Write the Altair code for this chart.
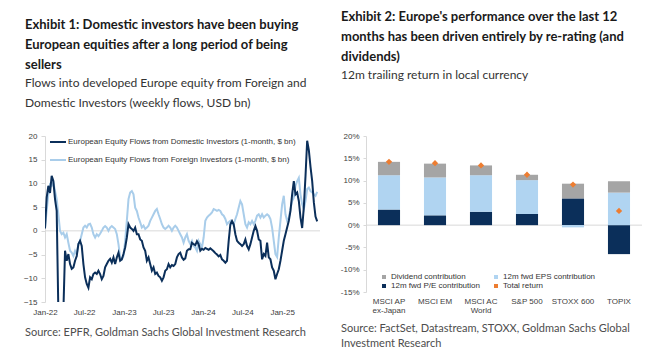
import altair as alt
import pandas as pd

# ---------------- Exhibit 1 data ----------------
flow_start = "2022-01-01"
flow_end = "2025-06-12"
dom_name = "European Equity Flows from Domestic Investors (1-month, $ bn)"
for_name = "European Equity Flows from Foreign Investors (1-month, $ bn)"

domestic = [
    0.5, 7.0, 9.5, 8.0, 11.6, 10.5, 6.7, 4.2, -17, -20, -19, -17, -4.2, -6.3, -4.9, -7.0,
    -8.0, -7.7, -6.3, -5.3, -2.8, -2.1, -3.2, -7.0, -9.8, -11.2, -12.0, -9.8, -10.2, -9.1,
    -8.8, -9.1, -8.4, -9.1, -10.2, -9.5, -7.7, -7.0, -6.3, -5.9, -6.7, -5.6, -7.0, -5.6,
    -4.6, -6.3, -6.0, -4.9, -3.5, -1.4, 1.4, 0.7, 0.4, 0.0, 0.7, -0.7, -0.7, -1.8, -2.1,
    -3.5, -4.2, -6.3, -5.6, -7.0, -8.4, -7.7, -9.1, -8.8, -9.5, -9.8, -10.5, -9.8, -8.4,
    -8.1, -7.0, -7.7, -7.2, -7.4, -7.0, -5.6, -4.9, -4.6, -5.6, -6.1, -5.8, -4.2, -3.9,
    -3.9, -2.5, -2.8, -3.0, -2.2, -2.8, -4.2, -3.8, -4.0, -3.6, -3.8, -4.0, -3.7, -4.0,
    -4.3, -4.7, -5.0, -5.4, -5.1, -6.0, -6.3, -6.7, -6.3, -2.1, 1.4, 2.1,
    1.4, -0.7, -2.1, -2.5, -2.8, -3.2, -2.8, -1.8, -3.2, -3.9, -2.8, -1.4, 0.0, 1.0, 0.0,
    -1.8, -2.1, -6.0, -4.9, -5.3, -2.5, -5.6, -6.0, -7.7, -8.4, -10.2, -9.1, -8.1, -6.3,
    -4.2, -2.1, -0.7, 0.7, 2.1, 4.2, 7.7, 10.5, 7.7, 8.1, 6.3, 2.8, 0.6, 5.0, 11.5, 19.0,
    17.0, 13.5, 10.5, 6.0, 3.0, 2.0,
]
foreign = [
    0.7, 4.2, 7.7, 9.8, 9.5, 10.2, 8.4, 6.7, 3.5, 0.0, -0.7, -0.4, -1.4, -0.7, -2.5, -4.2,
    -4.6, -5.3, -4.2, -4.9, -2.8, -2.1, -0.7, 0.7, 1.1, 0.7, 1.4, 1.5, 0.7, -0.7, -1.4,
    -0.7, -1.1, -0.6, 0.0, 0.7, 1.0, 0.7, 0.0, 0.7, 1.0, 0.7, 0.4, -0.7, -2.8, -5.6, -6.0,
    -5.3, -2.1, 2.1, 6.7, 8.1, 8.4, 7.7, 4.9, 4.2, 2.8, 1.8, 0.7,
    1.1, 0.4, 0.7, 1.1, 2.1, 2.8, 3.5, 4.2, 4.6, 3.5, 2.5, 1.4, 0.7, 0.4, 0.7, 1.1, 0.7,
    0.0, 0.7, 1.1, 0.7, 0.0, -0.7, -1.4, -2.5, -1.4, -0.7, -2.1, -2.8, -2.1, -3.2, -3.5,
    -4.2, -2.1, -2.8, -3.5, -1.4, 2.1, 2.8, 3.2, 3.5, 3.9, 4.6, 4.4, 4.2, 4.4, 4.2, 3.5,
    3.2, 2.5, 1.4, 1.8, 2.1, 1.4,
    1.4, 2.5, 3.5, 4.9, 6.3, 5.6, 3.5, 1.4, 0.7, 1.8, 1.4, 2.1, 1.4, 2.1, 3.2, 3.5, 2.8,
    3.5, 2.8, 3.2, 3.5, 3.2, 2.5, 0.7, -2.1, -4.9, -5.5, -1.4, 2.1, 5.6, 7.4, 3.5, 2.1,
    2.8, 4.6, 6.3, 7.0, 9.5, 10.5, 11.2, 7.7, 5.6, 4.6, 6.3, 8.8, 9.1, 8.4, 8.1, 7.7, 7.4,
    8.2,
]
flow_ticks = ["2022-01-01", "2022-07-01", "2023-01-01", "2023-07-01",
              "2024-01-01", "2024-07-01", "2025-01-01"]
flow_y_ticks = [-15, -10, -5, 0, 5, 10, 15, 20]

# ---------------- Exhibit 2 data ----------------
indices = ["MSCI AP\nex-Japan", "MSCI EM", "MSCI AC\nWorld", "S&P 500", "STOXX 600", "TOPIX"]
pe_contrib = [3.5, 2.2, 3.0, 2.5, 6.0, -6.5]
eps_contrib = [7.7, 8.5, 8.2, 7.6, -0.5, 7.3]
div_contrib = [3.0, 3.1, 2.2, 1.2, 3.3, 2.55]
total_return = [14.2, 13.9, 13.4, 11.3, 9.1, 3.2]
comp_names = ["Dividend contribution", "12m fwd P/E contribution",
              "12m fwd EPS contribution", "Total return"]
ret_y_ticks = [-15, -10, -5, 0, 5, 10, 15, 20]

# ---------------- style ----------------
NAVY = "#0b2f5a"
LIGHT = "#a9cdea"
GREY = "#a5a5a5"
BAR_LIGHT = "#b0d4f1"
ORANGE = "#ed7d31"
TITLE_FONT = "Lato"
AX_FONT = "Liberation Sans"
AX_COL = "#404040"

# ---------------- Exhibit 1 chart ----------------
dates = pd.date_range(flow_start, flow_end, periods=len(domestic))
df_flow = pd.concat([
    pd.DataFrame({"date": dates, "value": domestic, "series": dom_name}),
    pd.DataFrame({"date": dates, "value": foreign, "series": for_name}),
])

W1, H1 = 275, 166
xdates = [alt.DateTime(year=int(d[:4]), month=int(d[5:7]), date=1) for d in flow_ticks]
x1 = alt.X("date:T", title=None,
           scale=alt.Scale(domain=[alt.DateTime(year=2022, month=1, date=1),
                                   alt.DateTime(year=2025, month=6, date=25)]),
           axis=alt.Axis(values=xdates, format="%b-%y", domain=False, ticks=False,
                         grid=False, labelFont=AX_FONT, labelFontSize=8,
                         labelColor=AX_COL, labelPadding=6, labelFlush=False,
                         labelOverlap=False))
y1 = alt.Y("value:Q", title=None,
           scale=alt.Scale(domain=[-15, 20], nice=False, zero=False),
           axis=alt.Axis(values=flow_y_ticks, grid=False, domainColor="#d9d9d9",
                         tickColor="#d9d9d9", tickSize=4, labelFont=AX_FONT,
                         labelFontSize=8, labelColor=AX_COL, labelPadding=4,
                         labelOverlap=False))
c1 = alt.Color("series:N",
               scale=alt.Scale(domain=[dom_name, for_name], range=[NAVY, LIGHT]),
               legend=alt.Legend(orient="none", legendX=4, legendY=-3, title=None,
                                 symbolType="stroke", symbolSize=256,
                                 symbolStrokeWidth=2, labelFont=AX_FONT,
                                 labelFontSize=8, labelColor="#333333", labelLimit=400,
                                 rowPadding=5, labelOffset=1, padding=0))

light_line = alt.Chart(df_flow).transform_filter(
    alt.datum.series == for_name).mark_line(strokeWidth=2, clip=True).encode(x=x1, y=y1, color=c1)
dark_line = alt.Chart(df_flow).transform_filter(
    alt.datum.series == dom_name).mark_line(strokeWidth=2, clip=True).encode(x=x1, y=y1, color=c1)
zero1 = alt.Chart(pd.DataFrame({"value": [0]})).mark_rule(color="#d9d9d9", strokeWidth=1).encode(
    y=y1)
src1 = alt.Chart(pd.DataFrame({"t": ["Source: EPFR, Goldman Sachs Global Investment Research"]})).mark_text(
    align="left", baseline="middle", font=TITLE_FONT, fontSize=11, color="#4d4d4d").encode(
    x=alt.value(-20), y=alt.value(197), text="t:N")

left = alt.layer(zero1, light_line, dark_line, src1).properties(
    width=W1, height=H1,
    title=alt.Title(
        text=["Exhibit 1: Domestic investors have been buying",
              "European equities after a long period of being", "sellers"],
        subtitle=["Flows into developed Europe equity from Foreign and",
                  "Domestic Investors (weekly flows, USD bn)"],
        anchor="start", frame="group", dx=-20, font=TITLE_FONT, fontSize=13,
        fontWeight="bold", color="#1a1a1a", lineHeight=20, subtitleFont=TITLE_FONT,
        subtitleFontSize=12, subtitleColor="#333333", subtitleLineHeight=20,
        subtitlePadding=6, offset=23))

# ---------------- Exhibit 2 chart ----------------
comp_of = {"pe": comp_names[1], "eps": comp_names[2], "div": comp_names[0]}
rows = []
for i, cat in enumerate(indices):
    rows.append({"category": cat, "component": comp_of["pe"], "value": pe_contrib[i], "ord": 0})
    rows.append({"category": cat, "component": comp_of["eps"], "value": eps_contrib[i], "ord": 1})
    rows.append({"category": cat, "component": comp_of["div"], "value": div_contrib[i], "ord": 2})
df_bar = pd.DataFrame(rows)
df_tot = pd.DataFrame({"category": indices, "component": comp_names[3], "value": total_return})

W2, H2 = 276, 156
x2 = alt.X("category:N", sort=indices, title=None,
           scale=alt.Scale(paddingInner=0.52, paddingOuter=0.26),
           axis=alt.Axis(labelExpr="split(datum.label, '\\n')", labelAngle=0,
                         domain=False, ticks=False, labelFont=AX_FONT, labelFontSize=8,
                         labelColor=AX_COL, labelPadding=5, labelLineHeight=9,
                         labelOverlap=False))
y2_axis = alt.Axis(values=ret_y_ticks, grid=False, labelExpr="datum.value + '%'",
                   domainColor="#d9d9d9", tickColor="#d9d9d9", tickSize=3,
                   labelFont=AX_FONT, labelFontSize=8, labelColor=AX_COL,
                   labelPadding=4, labelOverlap=False)
y2 = alt.Y("value:Q", stack="zero", title=None,
           scale=alt.Scale(domain=[-15, 20], nice=False, zero=False), axis=y2_axis)
y2ns = alt.Y("value:Q", stack=None, title=None,
             scale=alt.Scale(domain=[-15, 20], nice=False, zero=False), axis=y2_axis)
c2 = alt.Color("component:N",
               scale=alt.Scale(domain=comp_names, range=[GREY, NAVY, BAR_LIGHT, ORANGE]),
               legend=alt.Legend(orient="none", legendX=14, legendY=137, title=None,
                                 columns=2, symbolType="square", symbolSize=16,
                                 labelFont=AX_FONT, labelFontSize=8, labelLimit=300,
                                 labelColor="#333333", columnPadding=12, rowPadding=1,
                                 labelOffset=3, padding=0))

zero2 = alt.Chart(pd.DataFrame({"value": [0]})).mark_rule(color="#d9d9d9", strokeWidth=1).encode(
    y=y2ns)
bars = alt.Chart(df_bar).mark_bar().encode(
    x=x2, y=y2, color=c2, order=alt.Order("ord:Q"))
pts = alt.Chart(df_tot).mark_point(shape="diamond", filled=True, size=40, opacity=1).encode(
    x=x2, y=y2ns, color=c2)
src2 = alt.Chart(pd.DataFrame({"t": ["Source: FactSet, Datastream, STOXX, Goldman Sachs Global\nInvestment Research"]})).mark_text(
    align="left", baseline="middle", font=TITLE_FONT, fontSize=11, color="#4d4d4d",
    lineBreak="\n", lineHeight=15).encode(x=alt.value(-25), y=alt.value(193), text="t:N")

right = alt.layer(zero2, bars, pts, src2).properties(
    width=W2, height=H2,
    title=alt.Title(
        text=["Exhibit 2: Europe's performance over the last 12",
              "months has been driven entirely by re-rating (and", "dividends)"],
        subtitle=["12m trailing return in local currency"],
        anchor="start", frame="group", dx=-25, font=TITLE_FONT, fontSize=13,
        fontWeight="bold", color="#1a1a1a", lineHeight=20, subtitleFont=TITLE_FONT,
        subtitleFontSize=12, subtitleColor="#333333", subtitleLineHeight=20,
        subtitlePadding=6, offset=51))

chart = alt.hconcat(left, right, spacing=19).resolve_scale(color="independent").properties(
    padding={"left": 15, "top": 3, "right": 0, "bottom": 0}, background="white"
).configure_view(stroke=None).configure_axis(labelOverlap=False)

chart.save("out.html", embed_options={"renderer": "svg", "actions": False})
